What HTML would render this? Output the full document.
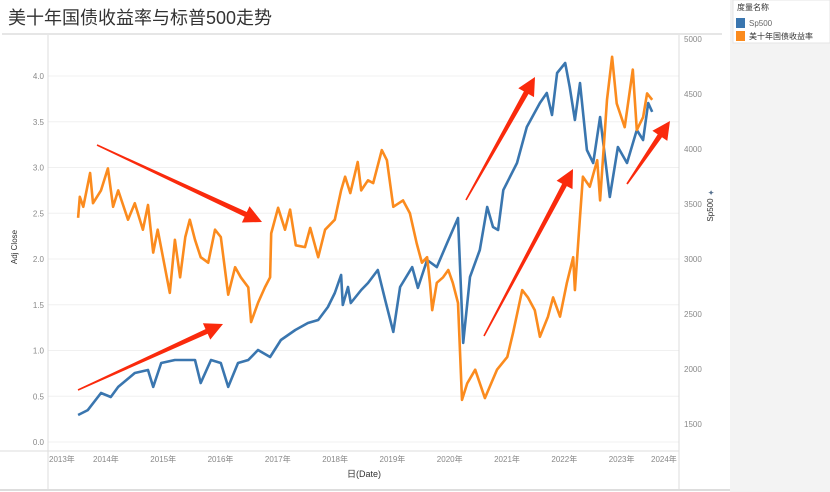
<!DOCTYPE html>
<html><head><meta charset="utf-8">
<style>
body{margin:0;background:#fff;font-family:"Liberation Sans","Noto Sans CJK SC",sans-serif;}
svg{display:block}
</style></head>
<body>
<svg id="chart" width="830" height="492" viewBox="0 0 830 492" xmlns="http://www.w3.org/2000/svg">
  <rect x="0" y="0" width="830" height="492" fill="#fff"/>
  <text x="8" y="24" font-size="18" fill="#333" font-family="Liberation Sans, Noto Sans CJK SC, sans-serif">美十年国债收益率与标普500走势</text>
  <line x1="2" y1="34" x2="722" y2="34" stroke="#e6e6e6" stroke-width="2"/>
  <rect x="730" y="0" width="100" height="492" fill="#f3f3f3"/>
  <rect x="733" y="0" width="97" height="43" fill="#fff" stroke="#e4e4e4"/>
  <text x="737" y="10" font-size="8" fill="#333">度量名称</text>
  <g>
    <rect x="736" y="18" width="9" height="10" fill="#3a76af"/>
    <text x="749" y="26" font-size="8" fill="#666">Sp500</text>
  </g>
  <g>
    <rect x="736" y="31" width="9" height="10" fill="#fb8b1e"/>
    <text x="749" y="39" font-size="8" fill="#333">美十年国债收益率</text>
  </g>
  <line x1="0" y1="490" x2="730" y2="490" stroke="#ddd" stroke-width="2"/>
  <g id="grid"></g>
  <line x1="48" y1="35" x2="48" y2="490" stroke="#ddd"/>
  <line x1="679" y1="35" x2="679" y2="490" stroke="#ddd"/>
  <line x1="0" y1="451" x2="679" y2="451" stroke="#ddd"/>
  <g id="ticks"></g>
  <text transform="translate(17,247) rotate(-90)" text-anchor="middle" font-size="8" fill="#333">Adj Close</text>
  <g transform="translate(713,210) rotate(-90)">
    <text text-anchor="middle" font-size="8" fill="#333">Sp500</text>
    <text x="14" y="1" font-size="8" fill="#56718f">✦</text>
  </g>
  <text x="364" y="477" text-anchor="middle" font-size="9" fill="#333">日(Date)</text>
  <g id="series"></g>
  <g id="arrows"></g>
</svg>
<script>
const yieldDates=[13.74,13.77,13.83,13.95,14.00,14.14,14.26,14.35,14.44,14.61,14.73,14.87,14.96,15.05,15.13,15.34,15.43,15.52,15.61,15.69,15.78,15.88,16.01,16.13,16.23,16.36,16.48,16.58,16.71,16.76,16.88,17.00,17.09,17.11,17.23,17.35,17.44,17.54,17.70,17.79,17.93,18.05,18.22,18.33,18.40,18.49,18.62,18.68,18.80,18.89,19.04,19.13,19.24,19.41,19.53,19.65,19.74,19.83,19.88,19.92,20.00,20.11,20.20,20.28,20.37,20.44,20.53,20.67,20.84,21.05,21.23,21.33,21.49,21.59,21.71,21.80,21.94,22.03,22.15,22.27,22.38,22.41,22.50,22.55,22.67,22.80,22.85,22.97,23.06,23.14,23.28,23.42,23.49,23.60,23.67,23.76];
const yieldValues=[2.45,2.68,2.57,2.94,2.61,2.75,2.99,2.57,2.75,2.43,2.61,2.32,2.59,2.07,2.32,1.63,2.21,1.80,2.24,2.43,2.21,2.02,1.96,2.32,2.24,1.61,1.91,1.80,1.69,1.31,1.52,1.69,1.80,2.28,2.56,2.32,2.54,2.15,2.13,2.34,2.02,2.32,2.43,2.75,2.90,2.72,3.06,2.75,2.86,2.83,3.19,3.08,2.57,2.64,2.50,2.17,1.96,2.02,1.74,1.44,1.74,1.80,1.88,1.74,1.52,0.46,0.64,0.79,0.48,0.79,0.93,1.19,1.66,1.58,1.44,1.15,1.37,1.58,1.37,1.74,2.02,1.66,2.46,2.90,2.79,3.08,2.64,3.74,4.21,3.70,3.44,4.07,3.41,3.55,3.81,3.74];
const spDates=[13.74,13.91,14.14,14.31,14.44,14.73,14.96,15.05,15.19,15.43,15.78,15.88,16.06,16.23,16.36,16.53,16.71,16.88,17.09,17.28,17.53,17.75,17.93,18.10,18.22,18.33,18.36,18.45,18.50,18.68,18.80,18.97,19.10,19.24,19.36,19.57,19.67,19.83,20.00,20.18,20.37,20.46,20.58,20.75,20.88,20.98,21.07,21.16,21.40,21.57,21.80,21.92,22.01,22.10,22.24,22.32,22.41,22.50,22.62,22.73,22.85,23.02,23.16,23.32,23.49,23.60,23.69,23.76];
const spValues=[1600,1645,1800,1764,1855,1982,2009,1855,2073,2100,2100,1891,2100,2073,1855,2073,2100,2191,2127,2282,2373,2436,2464,2582,2709,2873,2600,2764,2618,2736,2800,2918,2645,2355,2764,2945,2755,3009,2945,3164,3391,2255,2855,3100,3491,3309,3282,3645,3891,4218,4436,4527,4327,4709,4800,4582,4282,4618,4009,3891,4309,3582,4036,3891,4191,4100,4436,4355];
const leftTicks=["0.0","0.5","1.0","1.5","2.0","2.5","3.0","3.5","4.0"];
const rightTicks=[1500,2000,2500,3000,3500,4000,4500,5000];
const yearLabels=["2013年","2014年","2015年","2016年","2017年","2018年","2019年","2020年","2021年","2022年","2023年","2024年"];

const NS="http://www.w3.org/2000/svg";
function X(t){return 93+(t-14)*57.3;}
function YL(v){return 442-v*91.5;}
function YR(v){return 426-(v-1500)*0.11;}
function mk(tag,attrs,parent){const e=document.createElementNS(NS,tag);for(const k in attrs)e.setAttribute(k,attrs[k]);parent.appendChild(e);return e;}
const grid=document.getElementById('grid'),ticks=document.getElementById('ticks'),series=document.getElementById('series'),arrows=document.getElementById('arrows');
leftTicks.forEach(s=>{const v=parseFloat(s);const y=YL(v);
  const g=mk('line',{x1:48,x2:679,y1:y,y2:y,stroke:'#f0f0f0'},grid);
  
  
  const t=mk('text',{x:44,y:y+3,'text-anchor':'end','font-size':8,fill:'#888'},ticks);t.textContent=s;
  
  
});
rightTicks.forEach(v=>{const y=YR(v);
  const t=mk('text',{x:684,y:y+1,'font-size':8,fill:'#888'},ticks);t.textContent=v;
  
  
});
yearLabels.forEach((s,i)=>{const yr=13+i;let x=X(yr);if(i===0)x=49;if(i===yearLabels.length-1)x=651;
  const t=mk('text',{x:x,y:462,'font-size':8,fill:'#888'},ticks);t.textContent=s;
  
  
});
function line(d,v,fy,col,name){const p=d.map((t,i)=>X(t).toFixed(1)+','+fy(v[i]).toFixed(1)).join(' ');
  const e=mk('polyline',{points:p,fill:'none',stroke:col,'stroke-width':2.6,'stroke-linejoin':'round'},series);
  
  
}
line(spDates,spValues,YR,'#3a76af','sp500-line');
line(yieldDates,yieldValues,YL,'#fb8b1e','yield-line');
function arrow(x1,y1,x2,y2,name){const dx=x2-x1,dy=y2-y1,L=Math.hypot(dx,dy),ux=dx/L,uy=dy/L,nx=-uy,ny=ux;
  const hl=18,hw=9,w=2.6;const bx=x2-ux*hl,by=y2-uy*hl;
  const pts=[[x1+nx*0.8,y1+ny*0.8],[bx+nx*w,by+ny*w],[bx+nx*hw,by+ny*hw],[x2,y2],[bx-nx*hw,by-ny*hw],[bx-nx*w,by-ny*w],[x1-nx*0.8,y1-ny*0.8]];
  const e=mk('polygon',{points:pts.map(p=>p[0].toFixed(1)+','+p[1].toFixed(1)).join(' '),fill:'#fa2a0c'},arrows);
  
  
}
arrow(97,145,262,222,'arrow-yield-down');
arrow(78,390,223,324,'arrow-sp-up');
arrow(466,200,535,77,'arrow-sp-up-2021');
arrow(484,336,573,169,'arrow-yield-up-2022');
arrow(627,184,670,121,'arrow-up-2023');
</script>
</body></html>
